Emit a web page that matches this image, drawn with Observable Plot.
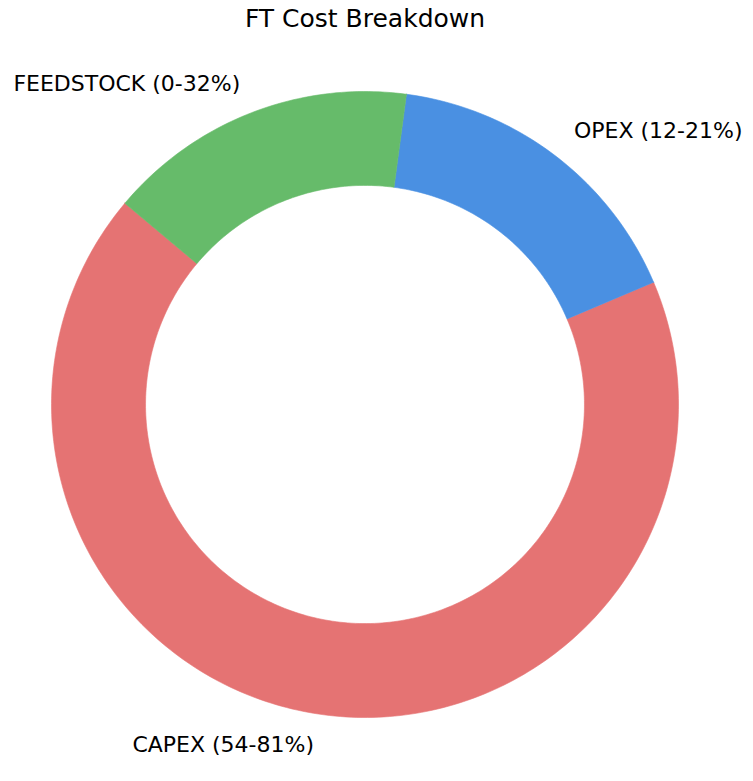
<!DOCTYPE html>
<html>
<head>
<meta charset="utf-8">
<script src="https://cdn.jsdelivr.net/npm/d3@7"></script>
<script src="https://cdn.jsdelivr.net/npm/@observablehq/plot@0.6"></script>
<style>
  html, body { margin: 0; padding: 0; background: #fff; }
  svg { display: block; }
</style>
</head>
<body>
<div id="chart"></div>
<script>
const categories = ["CAPEX", "OPEX", "FEEDSTOCK"];
const labels = ["CAPEX (54-81%)", "OPEX (12-21%)", "FEEDSTOCK (0-32%)"];
const values = [67.5, 16.5, 16];
const colors = ["#e57373", "#4a90e2", "#66bb6a"];
const title = "FT Cost Breakdown";

const startAngle = 140; // degrees, counterclockwise from +x (matplotlib style)
const innerR = 0.7;
const total = d3.sum(values);

const polyPts = [];
const labelPts = [];
let a = startAngle;
values.forEach((v, i) => {
  const span = v / total * 360;
  const a0 = a, a1 = a + span;
  const n = Math.max(8, Math.ceil(span));
  const pts = [];
  for (let k = 0; k <= n; k++) {
    const t = (a0 + (a1 - a0) * k / n) * Math.PI / 180;
    pts.push({x: Math.cos(t), y: Math.sin(t)});
  }
  for (let k = n; k >= 0; k--) {
    const t = (a0 + (a1 - a0) * k / n) * Math.PI / 180;
    pts.push({x: innerR * Math.cos(t), y: innerR * Math.sin(t)});
  }
  pts.push(pts[0]);
  pts.forEach(p => polyPts.push({...p, cat: categories[i]}));
  const mid = (a0 + a1) / 2 * Math.PI / 180;
  const lx = 1.1 * Math.cos(mid), ly = 1.1 * Math.sin(mid);
  labelPts.push({x: lx, y: ly, label: labels[i], anchor: lx < 0 ? "end" : "start"});
  a = a1;
});

const plot = Plot.plot({
  width: 753,
  height: 781,
  marginLeft: 51,
  marginRight: 75,
  marginTop: 91,
  marginBottom: 64,
  x: {domain: [-1, 1], axis: null},
  y: {domain: [-1, 1], axis: null},
  color: {domain: categories, range: colors},
  style: {fontFamily: "DejaVu Sans", background: "#fff"},
  marks: [
    Plot.line(polyPts, {x: "x", y: "y", z: "cat", fill: "cat", stroke: "cat", strokeWidth: 0.6, curve: "linear-closed"}),
    Plot.text(labelPts.filter(d => d.anchor === "end"), {x: "x", y: "y", text: "label", textAnchor: "end", fontSize: 22, fill: "#000"}),
    Plot.text(labelPts.filter(d => d.anchor === "start"), {x: "x", y: "y", text: "label", textAnchor: "start", fontSize: 22, fill: "#000"}),
    Plot.text([title], {frameAnchor: "top", dy: -82, text: d => d, fontSize: 25, fill: "#000"})
  ]
});
document.getElementById("chart").appendChild(plot);
</script>
</body>
</html>
